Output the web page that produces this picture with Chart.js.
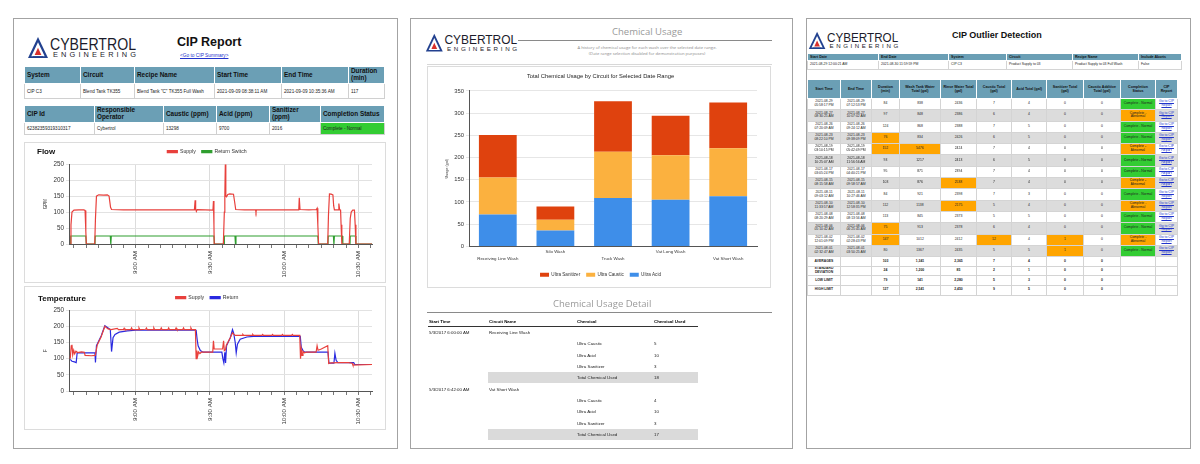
<!DOCTYPE html>
<html>
<head>
<meta charset="utf-8">
<script src="https://cdn.jsdelivr.net/npm/chart.js@4.4.0/dist/chart.umd.min.js"></script>
<style>
body { margin: 0; background: #fff; font-family: "Liberation Sans", Arial, sans-serif; }
#page { position: relative; width: 1200px; height: 464px; overflow: hidden; }
.panel { position: absolute; top: 18px; height: 431px; border: 1.5px solid #a3a3a3; box-sizing: border-box; }
.abs { position: absolute; white-space: nowrap; }
.box { position: absolute; border: 1px solid #dcdcdc; box-sizing: border-box; }
.box canvas { display: block; }
table { position: absolute; border-collapse: collapse; table-layout: fixed; }
td, th { padding: 0 2px; overflow: hidden; }
.lt th { background: #6b9fb5; color: #111; font-weight: bold; font-size: 6.4px; line-height: 6.6px; text-align: left; border: 1px solid #fff; }
.lt td { font-size: 4.6px; line-height: 5px; color: #222; border: 1px solid #d0d0d0; }
.rt th { background: #6b9fb5; color: #111; font-weight: bold; font-size: 3.6px; line-height: 4px; border: 1px solid #fff; }
.rt td { font-size: 3.4px; line-height: 3.9px; color: #222; border: 1px solid #d4d4d4; text-align: center; }
.rt.first th, .rt.first td { text-align: left; }
.gray td { background: #dcdcdc; }
td.org { background: #ffa500 !important; }
td.ok { background: #33cc33 !important; }
td.ab { background: #ffa500 !important; }
.lnk { color: #2233cc; text-decoration: underline; }
.dt td { font-size: 4.4px; color: #222; padding: 0 0 0 1px; height: 11.3px; }
.dt th { font-size: 4.4px; font-weight: bold; text-align: left; padding: 0 0 0 1px; border-bottom: 1px solid #333; height: 9px; }
.dt tr.tot td.sh { background: #dadada; }
</style>
</head>
<body>
<div id="page">
  <div class="panel" style="left:13px;width:385px;"></div>
  <div class="panel" style="left:410px;width:383px;"></div>
  <div class="panel" style="left:806px;width:385px;"></div>

  <!-- left panel -->
  <div class="abs logo" style="left:27px;top:35px;width:110px;height:24px;"></div>
  <div class="abs" style="left:177px;top:35px;font-size:12.5px;font-weight:bold;color:#111;">CIP Report</div>
  <div class="abs lnk" style="left:180px;top:53px;font-size:4.8px;">&lt;Go to CIP Summary&gt;</div>
  <table class="lt" id="lt1" style="left:24px;top:66px;width:360px;"></table>
  <table class="lt" id="lt2" style="left:24px;top:105px;width:360px;"></table>

  <div class="box" style="left:24px;top:142px;width:362px;height:141px;">
    <div class="abs" style="left:12px;top:4px;font-size:8px;font-weight:bold;color:#111;">Flow</div>
    <canvas id="flowChart"></canvas>
  </div>
  <div class="box" style="left:24px;top:286px;width:362px;height:144px;">
    <div class="abs" style="left:13px;top:7px;font-size:8px;font-weight:bold;color:#111;">Temperature</div>
    <canvas id="tempChart"></canvas>
  </div>

  <!-- middle panel -->
  <div class="abs logo" style="left:425px;top:32px;width:93px;height:20.3px;"></div>
  <div class="abs" style="left:612px;top:25px;font-size:9.5px;color:#9a9a9a;font-family:'Open Sans',sans-serif;">Chemical Usage</div>
  <div class="abs" style="left:518px;top:40px;width:254px;height:1px;background:#8a8a8a;"></div>
  <div class="abs" style="left:540px;top:45px;width:214px;text-align:center;font-size:4.2px;line-height:6.4px;color:#8a8a8a;font-family:'Open Sans',sans-serif;">A history of chemical usage for each wash over the selected date range.<br>(Date range selection disabled for demonstration purposes)</div>
  <div class="abs" style="left:427px;top:64px;width:345px;height:1px;background:#d8d8d8;"></div>
  <div class="box" style="left:427px;top:66px;width:344px;height:222px;">
    <canvas id="chemChart"></canvas>
  </div>
  <div class="abs" style="left:553px;top:297px;font-size:9.5px;color:#9a9a9a;font-family:'Open Sans',sans-serif;">Chemical Usage Detail</div>
  <div class="abs" style="left:427px;top:312px;width:345px;height:1px;background:#8a8a8a;"></div>
  <table class="dt" id="detail" style="left:428px;top:317px;width:270px;"></table>

  <!-- right panel -->
  <div class="abs logo" style="left:808px;top:30px;width:91px;height:19.9px;"></div>
  <div class="abs" style="left:952px;top:30px;font-size:9px;font-weight:bold;color:#111;">CIP Outlier Detection</div>
  <table class="rt first" id="rt1" style="left:807px;top:53px;width:374px;"></table>
  <table class="rt" id="rt2" style="left:807px;top:79px;width:370px;"></table>
</div>

<script>
// ---- stacked bar: chemical usage by circuit ----
const circuits = [['', 'Receiving Line Wash'], ['Silo Wash', ''], ['', 'Truck Wash'], ['Vat Long Wash', ''], ['', 'Vat Short Wash']];
const ultraAcid = [72, 36, 109, 105, 113];
const ultraCaustic = [83, 24, 104, 100, 108];
const ultraSanitizer = [96, 30, 114, 89, 103];

// ---- flow chart (minutes relative to 9:00 AM) ----
const flowSupplyT = [-26.5, -26.2, -25.8, -25, -23, -21, -20.5, -20.2, -20.0, -16.6, -16.3, -15.9, -15, -13, -11.5, -10.8, -10.2, -9.8, -5, 0, 5, 10, 15, 20, 23.7, 24, 24.2, 24.5, 24.8, 28, 31.2, 31.4, 31.6, 31.7, 35.4, 35.8, 36.0, 36.2, 36.4, 36.7, 37.2, 38, 39.5, 40.0, 40.4, 44, 48.4, 48.6, 48.8, 55, 60, 65.9, 66.1, 66.4, 70, 73, 73.3, 73.6, 73.9, 77.6, 77.9, 78.3, 79, 79.7, 80.0, 80.3, 81.9, 82.1, 82.4, 82.8, 83.0, 83.3, 86.3, 86.7, 87.1, 87.7, 88.4, 88.7, 89.0, 95.5];
const flowSupply = [0, 60, 100, 106, 107, 107, 105, 40, 0, 0, 80, 150, 154, 153, 154, 150, 115, 108, 107, 107, 107, 107, 107, 107, 107, 137, 108, 102, 108, 107, 106, 135, 60, 0, 0, 100, 150, 250, 150, 148, 155, 157, 156, 130, 108, 107, 107, 100, 107, 107, 107, 107, 145, 108, 107, 108, 112, 60, 0, 0, 90, 157, 156, 154, 120, 107, 107, 127, 108, 106, 60, 0, 0, 80, 100, 106, 106, 60, 0, 0];
const returnSwitchT = [-26.5, -26.3, -20.2, -20.0, -16.5, -16.4, -10.3, -10.1, -9.9, 31.6, 31.8, 35.7, 35.8, 40.1, 40.3, 40.5, 73.6, 73.8, 77.7, 77.8, 79.9, 80.1, 80.3, 83.5, 83.7, 86.6, 86.7, 88.8, 89.0, 95.5];
const returnSwitch = [0, 25, 25, 0, 0, 25, 25, 0, 25, 25, 0, 0, 25, 25, 0, 25, 25, 0, 0, 25, 25, 0, 25, 25, 0, 0, 25, 25, 0, 0];

// ---- temperature chart (minutes relative to 9:00 AM) ----
const tempSupplyT = [-26.5, -26.1, -25.8, -25.5, -25.1, -24.7, -24.2, -23.5, -22, -20.8, -20.5, -18, -16.4, -16.0, -15.6, -14, -12.5, -11.9, -11.2, -10, -7.5, -7, -5, -4.7, -4.4, -2, -1.7, -1.4, 1, 1.3, 1.6, 4, 4.3, 4.6, 7, 7.3, 7.6, 10, 10.3, 10.6, 13, 13.3, 13.6, 16, 16.3, 16.6, 19, 19.3, 19.6, 22, 22.3, 22.6, 24.1, 24.4, 24.7, 25.0, 25.4, 25.9, 26.5, 31.1, 31.4, 31.7, 35.1, 35.5, 35.8, 36.3, 36.6, 37.2, 38.2, 39.1, 39.6, 40.2, 43, 43.3, 43.6, 47, 47.3, 47.6, 51, 51.3, 51.6, 55, 55.3, 55.6, 59, 59.3, 59.6, 63, 63.3, 63.6, 66.3, 66.6, 66.9, 67.2, 67.6, 68.2, 69, 72.9, 73.3, 73.7, 75, 77.6, 78.0, 79, 82, 86, 87.5, 87.8, 90, 95.5];
const tempSupply = [100, 140, 143, 112, 126, 115, 123, 119, 121, 120, 110, 109, 110, 125, 142, 168, 200, 196, 192, 190, 194, 190, 190, 194, 190, 190, 195, 190, 190, 195, 190, 191, 195, 190, 190, 195, 190, 190, 195, 190, 190, 195, 190, 190, 195, 190, 190, 195, 190, 190, 195, 190, 190, 100, 125, 108, 121, 116, 120, 120, 155, 130, 130, 155, 125, 128, 142, 150, 165, 180, 176, 172, 172, 175, 172, 172, 175, 172, 172, 175, 172, 172, 175, 172, 172, 175, 172, 172, 175, 172, 172, 100, 128, 110, 123, 118, 120, 120, 140, 126, 130, 140, 85, 87, 88, 88, 86, 80, 81, 82];
const tempReturnT = [-26.5, -25.8, -24.8, -24.1, -23.7, -16.5, -16.3, -15.9, -14, -12.5, -11.2, -10.3, -9.8, -9.2, -8.4, -6.7, -3.4, 0, 24.4, 24.8, 25.2, 26.1, 27.2, 34.8, 35.2, 35.6, 36.0, 36.3, 36.7, 38.2, 39.1, 39.6, 40.2, 40.6, 41.1, 42.2, 44.9, 47.5, 66.5, 66.9, 67.6, 68.3, 77.7, 78.1, 80.1, 80.5, 81.0, 81.7, 88.1, 88.5, 95.5];
const tempReturn = [98, 92, 90, 88, 118, 118, 88, 140, 170, 202, 195, 190, 122, 165, 175, 182, 186, 188, 188, 160, 140, 125, 120, 120, 100, 87, 120, 87, 140, 165, 190, 178, 150, 118, 145, 160, 167, 169, 169, 135, 125, 120, 120, 86, 86, 117, 95, 88, 88, 82, 82];

// ---- tables ----
const cipHead1 = ['System', 'Circuit', 'Recipe Name', 'Start Time', 'End Time', 'Duration (min)'];
const cipRow1 = ['CIP C3', 'Blend Tank TK355', 'Blend Tank "C" TK355 Full Wash', '2021-09-09 08:38:11 AM', '2021-09-09 10:35:36 AM', '117'];
const cipCols1 = [56, 54, 80, 67, 67, 36];
const cipHead2 = ['CIP Id', 'Responsible Operator', 'Caustic (ppm)', 'Acid (ppm)', 'Sanitizer (ppm)', 'Completion Status'];
const cipRow2 = ['62382359319310317', 'Cybertrol', '13298', '9700', '2016', 'Complete - Normal'];
const cipCols2 = [70, 69, 53, 53, 51, 64];

const filterHead = ['Start Date', 'End Date', 'System', 'Circuit', 'Recipe Name', 'Include Aborts'];
const filterRow = ['2021-08-29 12:00:21 AM', '2021-08-30 11:59:59 PM', 'CIP C3', 'Product Supply to 03', 'Product Supply to 03 Full Wash', 'False'];
const filterCols = [71, 70, 58, 66, 66, 43];

const outlierHead = ['Start Time', 'End Time', 'Duration (min)', 'Wash Tank Water Total (gal)', 'Rinse Water Total (gal)', 'Caustic Total (gal)', 'Acid Total (gal)', 'Sanitizer Total (gal)', 'Caustic Additive Total (gal)', 'Completion Status', 'CIP Report'];
const outlierCols = [33, 31, 28, 41, 36, 35, 35, 37, 37, 35, 22];
const outlierRows = [
  ['2021-08-29 05:58:17 PM', '2021-08-29 07:12:53 PM', 84, 838, 2436, 7, 4, 0, 0, 'N'],
  ['2021-08-27 08:30:25 AM', '2021-08-27 10:07:02 AM', 97, 848, 2386, 6, 4, 0, 0, 'A'],
  ['2021-08-26 07:20:09 AM', '2021-08-26 09:24:12 AM', 124, 868, 2388, 7, 5, 0, 0, 'N'],
  ['2021-08-23 08:22:10 PM', '2021-08-23 09:38:09 PM', 76, 834, 2426, 6, 5, 0, 0, 'N'],
  ['2021-08-19 03:10:15 PM', '2021-08-19 05:42:49 PM', 152, 5476, 2424, 7, 4, 0, 0, 'A'],
  ['2021-08-18 10:25:07 AM', '2021-08-18 11:56:56 AM', 93, 1217, 2413, 6, 5, 0, 0, 'N'],
  ['2021-08-17 03:05:24 PM', '2021-08-17 04:40:21 PM', 95, 871, 2394, 7, 4, 0, 0, 'N'],
  ['2021-08-15 08:15:58 AM', '2021-08-15 09:58:57 AM', 103, 876, 2538, 7, 4, 0, 0, 'A'],
  ['2021-08-11 09:03:12 AM', '2021-08-11 10:27:46 AM', 84, 921, 2398, 7, 3, 0, 0, 'N'],
  ['2021-08-10 11:33:57 AM', '2021-08-10 12:58:35 PM', 112, 1138, 2175, 5, 4, 0, 0, 'A'],
  ['2021-08-08 08:20:29 AM', '2021-08-08 08:13:56 AM', 113, 845, 2373, 5, 5, 0, 0, 'N'],
  ['2021-08-06 05:10:42 AM', '2021-08-06 06:25:45 AM', 75, 913, 2378, 6, 4, 0, 0, 'N'],
  ['2021-08-02 12:01:09 PM', '2021-08-02 02:28:43 PM', 147, 1012, 2412, 12, 4, 1, 0, 'A'],
  ['2021-08-01 02:32:47 AM', '2021-08-01 03:50:25 AM', 80, 1367, 2435, 5, 5, 1, 0, 'N']
];
const outlierFlags = [[], [], [], [2], [2, 3], [], [], [4], [], [4], [], [2], [2, 5, 7], [7]];
const outlierStats = [
  ['AVERAGES', '103', '1,341', '2,365', '7', '4', '0', '0'],
  ['STANDARD DEVIATION', '24', '1,200', '85', '2', '1', '0', '0'],
  ['LOW LIMIT', '79', '141', '2,280', '5', '3', '0', '0'],
  ['HIGH LIMIT', '127', '2,541', '2,450', '9', '5', '0', '0']
];

const detailRows = [
  ['5/3/2017 6:00:00 AM', 'Receiving Line Wash', '', ''],
  ['', '', 'Ultra Caustic', '5'],
  ['', '', 'Ultra Acid', '10'],
  ['', '', 'Ultra Sanitizer', '3'],
  ['', '', 'Total Chemical Used', '18'],
  ['5/3/2017 6:42:00 AM', 'Vat Short Wash', '', ''],
  ['', '', 'Ultra Caustic', '4'],
  ['', '', 'Ultra Acid', '10'],
  ['', '', 'Ultra Sanitizer', '3'],
  ['', '', 'Total Chemical Used', '17']
];

// logo
const logoSvg = '<svg viewBox="0 0 110 24" width="100%" height="100%" preserveAspectRatio="none">' +
  '<polygon points="1,23 11,2 21,23" fill="#22418f"/>' +
  '<polygon points="4.3,21.2 11,7.2 17.7,21.2" fill="#fff"/>' +
  '<polygon points="7.6,20 11,12.8 14.4,20" fill="#d8302c"/>' +
  '<polygon points="5.6,21.2 16.4,21.2 16,22 6,22" fill="#22418f"/>' +
  '<text x="23" y="14.5" font-size="16" textLength="86" lengthAdjust="spacingAndGlyphs" fill="#1b1b2b" font-family="Liberation Sans, Arial">CYBERTROL</text>' +
  '<text x="26" y="22.2" font-size="7.4" textLength="83" lengthAdjust="spacing" fill="#1b1b2b" font-family="Liberation Sans, Arial">ENGINEERING</text>' +
  '</svg>';
document.querySelectorAll('.logo').forEach(el => { el.innerHTML = logoSvg; });

function colgroup(widths) {
  return '<colgroup>' + widths.map(w => `<col style="width:${w}px">`).join('') + '</colgroup>';
}

// left CIP report tables
function cipTable(id, cols, head, row, headH, rowH) {
  let html = colgroup(cols);
  html += `<tr style="height:${headH}px">` + head.map(h => `<th>${h}</th>`).join('') + '</tr>';
  html += `<tr style="height:${rowH}px">` + row.map(v => {
    const cls = v === 'Complete - Normal' ? ' class="ok"' : '';
    return `<td${cls}>${v}</td>`;
  }).join('') + '</tr>';
  document.getElementById(id).innerHTML = html;
}
cipTable('lt1', cipCols1, cipHead1, cipRow1, 17, 15);
cipTable('lt2', cipCols2, cipHead2, cipRow2, 17, 12);

// right filter table
(function () {
  let html = colgroup(filterCols);
  html += '<tr style="height:7px">' + filterHead.map(h => `<th>${h}</th>`).join('') + '</tr>';
  html += '<tr style="height:9px">' + filterRow.map(v => `<td>${v}</td>`).join('') + '</tr>';
  document.getElementById('rt1').innerHTML = html;
})();

// right outlier table
(function () {
  let html = colgroup(outlierCols);
  html += '<tr style="height:19px">' + outlierHead.map(h => `<th>${h}</th>`).join('') + '</tr>';
  outlierRows.forEach((r, i) => {
    const flags = outlierFlags[i];
    html += `<tr class="${i % 2 ? 'gray' : ''}" style="height:11.3px">`;
    r.slice(0, 9).forEach((v, j) => {
      let txt = String(v);
      if (j < 2) txt = txt.replace(' ', '<br>');
      html += `<td${flags.includes(j) ? ' class="org"' : ''}>${txt}</td>`;
    });
    html += r[9] === 'N' ? '<td class="ok">Complete - Normal</td>' : '<td class="ab">Complete -<br>Abnormal</td>';
    html += '<td><span class="lnk">Go to CIP<br>Report</span></td></tr>';
  });
  outlierStats.forEach(s => {
    const lbl = s[0] === 'STANDARD DEVIATION' ? 'STANDARD<br>DEVIATION' : s[0];
    html += '<tr style="height:9.6px">';
    html += `<td style="font-weight:bold">${lbl}</td><td></td>`;
    s.slice(1).forEach(v => { html += `<td style="font-weight:bold">${v}</td>`; });
    html += '<td></td><td></td></tr>';
  });
  document.getElementById('rt2').innerHTML = html;
})();

// chemical usage detail table
(function () {
  let html = colgroup([60, 88, 77, 45]);
  html += '<tr><th>Start Time</th><th>Circuit Name</th><th>Chemical</th><th>Chemical Used</th></tr>';
  detailRows.forEach(r => {
    const tot = r[2] === 'Total Chemical Used';
    html += `<tr class="${tot ? 'tot' : ''}"><td>${r[0]}</td><td class="sh">${r[1]}</td><td class="sh">${r[2]}</td><td class="sh">${r[3]}</td></tr>`;
  });
  document.getElementById('detail').innerHTML = html;
})();

// ---- charts ----
Chart.defaults.font.family = '"Liberation Sans", Arial, sans-serif';
Chart.defaults.color = '#333';
Chart.defaults.animation = false;

function toPoints(ts, vs) {
  return ts.map((t, i) => ({ x: t, y: vs[i] }));
}

function timeLabel(m) {
  const total = 540 + m;
  const h = Math.floor(total / 60);
  const mm = total % 60;
  const h12 = h > 12 ? h - 12 : h;
  return `${h12}:${String(mm).padStart(2, '0')} ${h >= 12 ? 'PM' : 'AM'}`;
}

function createTimeChart(id, yTitle, sets, topPad) {
  return new Chart(document.getElementById(id), {
    type: 'line',
    data: {
      datasets: sets.map(s => ({
        label: s.label,
        data: s.data,
        borderColor: s.color,
        backgroundColor: s.color,
        borderWidth: 1.2,
        pointRadius: 0,
        tension: 0
      }))
    },
    options: {
      responsive: true,
      maintainAspectRatio: false,
      layout: { padding: { left: 17, right: 13, top: topPad, bottom: 0 } },
      plugins: {
        legend: {
          position: 'top',
          labels: { font: { size: 5.2 }, boxWidth: 10, boxHeight: 2, padding: 6, color: '#333' }
        },
        tooltip: { enabled: false }
      },
      scales: {
        x: {
          type: 'linear',
          min: -27,
          max: 95.5,
          border: { color: '#555' },
          grid: {
            color: ctx => (ctx.tick && ctx.tick.value % 30 === 0 ? '#dcdcdc' : 'rgba(0,0,0,0)'),
            tickColor: '#777',
            tickLength: 4
          },
          ticks: {
            stepSize: 5,
            includeBounds: false,
            autoSkip: false,
            minRotation: 90,
            maxRotation: 90,
            font: { size: 6.2 },
            padding: 3,
            callback: v => (v % 30 === 0 ? timeLabel(v) : '')
          },
          afterFit: s => { s.height = 38; }
        },
        y: {
          min: 0,
          max: 250,
          border: { color: '#555' },
          grid: { color: '#e2e2e2', tickLength: 3 },
          ticks: { stepSize: 50, font: { size: 6.3 }, padding: 2 },
          title: { display: true, text: yTitle, font: { size: 4.5 }, padding: 1 },
          afterFit: s => { s.width = 27; }
        }
      }
    }
  });
}

const flowChart = createTimeChart('flowChart', 'GPM', [
  { label: 'Supply', data: toPoints(flowSupplyT, flowSupply), color: '#e8403c' },
  { label: 'Return Switch', data: toPoints(returnSwitchT, returnSwitch), color: '#2f9e2f' }
], 0);

const tempChart = createTimeChart('tempChart', 'F', [
  { label: 'Supply', data: toPoints(tempSupplyT, tempSupply), color: '#e8403c' },
  { label: 'Return', data: toPoints(tempReturnT, tempReturn), color: '#2a2ae0' }
], 2);

const chemChart = new Chart(document.getElementById('chemChart'), {
  type: 'bar',
  data: {
    labels: circuits,
    datasets: [
      { label: 'Ultra Acid', data: ultraAcid, backgroundColor: '#3e8ee9' },
      { label: 'Ultra Caustic', data: ultraCaustic, backgroundColor: '#fbb13f' },
      { label: 'Ultra Sanitizer', data: ultraSanitizer, backgroundColor: '#df420e' }
    ]
  },
  options: {
    responsive: true,
    maintainAspectRatio: false,
    datasets: { bar: { categoryPercentage: 0.8, barPercentage: 0.82 } },
    layout: { padding: { left: 16, right: 13, top: 0, bottom: 0 } },
    plugins: {
      title: {
        display: true,
        text: 'Total Chemical Usage by Circuit for Selected Date Range',
        font: { size: 5.8, weight: 'normal' },
        color: '#222',
        padding: { top: 6, bottom: 11 }
      },
      legend: {
        position: 'bottom',
        reverse: true,
        labels: { font: { size: 4.6 }, boxWidth: 9, boxHeight: 4, padding: 6, color: '#333' }
      },
      tooltip: { enabled: false }
    },
    scales: {
      x: {
        stacked: true,
        border: { color: '#555' },
        grid: { display: false, drawTicks: false, tickLength: 0 },
        ticks: { font: { size: 4.4, lineHeight: 1.6 }, maxRotation: 0, autoSkip: false, padding: 2 },
        afterFit: s => { s.height = 20; }
      },
      y: {
        stacked: true,
        min: 0,
        max: 350,
        border: { color: '#555' },
        grid: { color: '#e6e6e6', tickLength: 3 },
        ticks: { stepSize: 50, font: { size: 5.8 }, padding: 2 },
        title: { display: true, text: 'Usage (gal)', font: { size: 3.8 }, padding: 1 },
        afterFit: s => { s.width = 25; }
      }
    }
  }
});
</script>
</body>
</html>
